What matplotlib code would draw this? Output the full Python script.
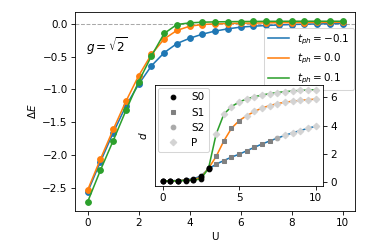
# Import
import numpy as np
import matplotlib
matplotlib.use('Agg')
import matplotlib.pyplot as plt

# Colors
blue = '#1f77b4'
orange = '#ff7f0e'
green = '#2ca02c'

# Data: energy difference vs U for three phonon hoppings
U = [0.0, 0.5, 1.0, 1.5, 2.0, 2.5, 3.0, 3.5, 4.0, 4.5, 5.0,
     5.5, 6.0, 6.5, 7.0, 7.5, 8.0, 8.5, 9.0, 9.5, 10.0]
t_ph = [-0.1, 0.0, 0.1]
labels = ['$t_{ph} = -0.1$', '$t_{ph} = 0.0$', '$t_{ph} = 0.1$']

dE_m01 = [-2.56, -2.10, -1.66, -1.25, -0.92, -0.64, -0.44, -0.30, -0.22, -0.157, -0.11,
          -0.076, -0.05, -0.036, -0.025, -0.017, -0.01, -0.005, -0.001, 0.002, 0.005]
dE_00 = [-2.53, -2.06, -1.61, -1.18, -0.79, -0.465, -0.23, -0.10, -0.036, -0.01, 0.0,
         0.005, 0.01, 0.012, 0.015, 0.017, 0.019, 0.02, 0.022, 0.023, 0.025]
dE_p01 = [-2.71, -2.23, -1.78, -1.32, -0.88, -0.49, -0.147, -0.01, 0.015, 0.025, 0.03,
          0.033, 0.035, 0.037, 0.038, 0.039, 0.04, 0.04, 0.04, 0.04, 0.04]

# Inset: order parameter d vs U, with phase of each point
d_m01 = [0.05, 0.06, 0.08, 0.12, 0.2, 0.4, 0.9, 1.25, 1.5, 1.75, 1.95,
         2.2, 2.45, 2.68, 2.9, 3.1, 3.3, 3.48, 3.64, 3.8, 3.95]
d_00 = [0.05, 0.06, 0.07, 0.1, 0.15, 0.3, 0.95, 1.8, 2.9, 3.8, 4.35,
        4.7, 5.0, 5.25, 5.42, 5.56, 5.66, 5.73, 5.79, 5.84, 5.88]
d_p01 = [0.05, 0.05, 0.06, 0.08, 0.1, 0.2, 0.95, 3.4, 4.8, 5.35, 5.67,
         5.9, 6.05, 6.17, 6.27, 6.35, 6.41, 6.46, 6.5, 6.53, 6.55]

phase_m01 = ['S0'] * 7 + ['S1'] * 8 + ['S2'] + ['P'] * 5
phase_00 = ['S0'] * 7 + ['S1'] * 4 + ['P'] * 10
phase_p01 = ['S0'] * 7 + ['P'] * 14

phase_names = ['S0', 'S1', 'S2', 'P']
phase_style = {'S0': ('o', 'black'),
               'S1': ('s', 'gray'),
               'S2': ('o', 'darkgray'),
               'P': ('D', 'lightgray')}

# Figure
dpi = 75
fig = plt.figure(figsize=(374 / dpi, 249 / dpi), dpi=dpi)
ax = fig.add_axes([0.2005, 0.154, 0.7495, 0.797])

colors = [blue, orange, green]
for dE, c, lab in zip([dE_m01, dE_00, dE_p01], colors, labels):
    ax.plot(U, dE, '-', color=c, label=lab)
    ax.plot(U, dE, 'o', color=c, markersize=5.5)

ax.axhline(0, color='darkgray', ls='--', lw=1, zorder=0)
ax.set_xlabel('U')
ax.set_ylabel(r'$\Delta E$')
ax.set_xticks([0, 2, 4, 6, 8, 10])
ax.set_yticks([0.0, -0.5, -1.0, -1.5, -2.0, -2.5])
ax.text(0.04, 0.83, r'$g=\sqrt{2}$', transform=ax.transAxes, fontsize=11.5, va='center')
ax.legend(loc='upper right', bbox_to_anchor=(0.994, 0.919), borderaxespad=0)

# Inset
axin = fig.add_axes([0.4144, 0.255, 0.4500, 0.403])
for d, c in zip([d_m01, d_00, d_p01], colors):
    axin.plot(U, d, '-', color=c, lw=1.5)

for name in phase_names:
    mk, mc = phase_style[name]
    xs, ys = [], []
    for d, ph in zip([d_m01, d_00, d_p01], [phase_m01, phase_00, phase_p01]):
        for u, v, p in zip(U, d, ph):
            if p == name:
                xs.append(u)
                ys.append(v)
    axin.plot(xs, ys, ls='none', marker=mk, color=mc, markersize=4.5, label=name)

axin.yaxis.tick_right()
axin.set_xticks([0, 5, 10])
axin.set_yticks([0, 2, 4, 6])
axin.set_ylabel('$d$', labelpad=6)
axin.legend(loc='upper left', borderaxespad=0.3)

plt.savefig('out.png', dpi=dpi)
